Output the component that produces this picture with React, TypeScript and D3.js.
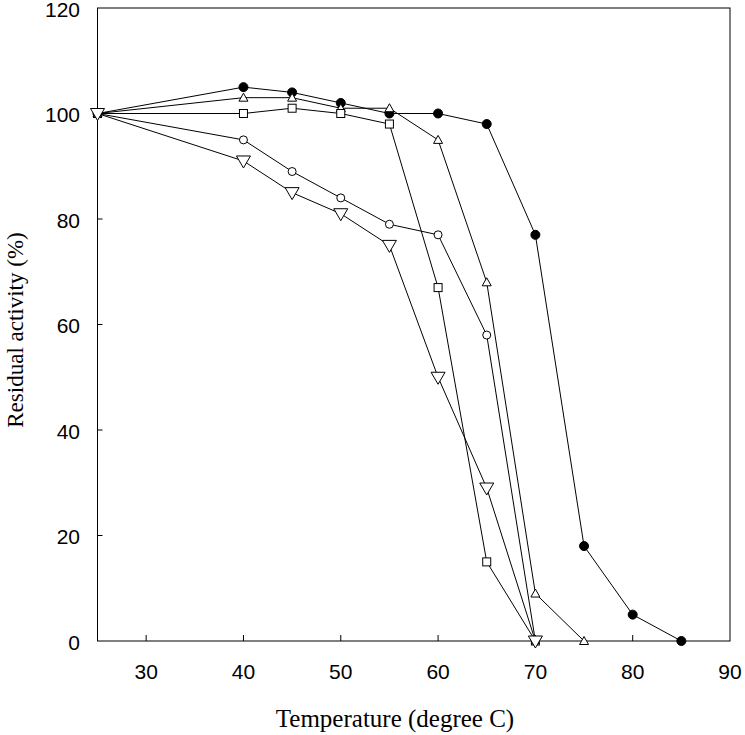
import React from "react";
import * as d3 from "d3";

const temps = [25, 40, 45, 50, 55, 60, 65, 70, 75, 80, 85];
const filledCircle = [100, 105, 104, 102, 100, 100, 98, 77, 18, 5, 0];
const triUp = [100, 103, 103, 101, 101, 95, 68, 9, 0];
const square = [100, 100, 101, 100, 98, 67, 15, 0];
const openCircle = [100, 95, 89, 84, 79, 77, 58, 0];
const triDown = [100, 91, 85, 81, 75, 50, 29, 0];
const xTicks = [30, 40, 50, 60, 70, 80, 90];
const yTicks = [0, 20, 40, 60, 80, 100, 120];

type S = { name: string; vals: number[]; shape: string };
const series: S[] = [
  { name: "filledCircle", vals: filledCircle, shape: "fcircle" },
  { name: "triUp", vals: triUp, shape: "triup" },
  { name: "square", vals: square, shape: "square" },
  { name: "openCircle", vals: openCircle, shape: "ocircle" },
  { name: "triDown", vals: triDown, shape: "tridown" },
];

export default function App() {
  const W = 745, H = 735;
  const x = d3.scaleLinear().domain([25, 90]).range([97.5, 730]);
  const y = d3.scaleLinear().domain([0, 120]).range([641, 8]);
  const line = d3.line<[number, number]>().x(d => x(d[0])).y(d => y(d[1]));

  const marker = (shape: string, cx: number, cy: number, k: string) => {
    switch (shape) {
      case "fcircle":
        return <circle key={k} cx={cx} cy={cy} r={4.5} fill="#000" stroke="#000" strokeWidth={1} />;
      case "ocircle":
        return <circle key={k} cx={cx} cy={cy} r={4} fill="#fff" stroke="#000" strokeWidth={1} />;
      case "square":
        return <rect key={k} x={cx - 4} y={cy - 4} width={8} height={8} fill="#fff" stroke="#000" strokeWidth={1} />;
      case "triup":
        return <path key={k} d={`M${cx},${cy - 4.5}L${cx + 4.5},${cy + 3.5}L${cx - 4.5},${cy + 3.5}Z`} fill="#fff" stroke="#000" strokeWidth={1} />;
      case "tridown":
        return <path key={k} d={`M${cx - 7},${cy - 5}L${cx + 7},${cy - 5}L${cx},${cy + 7}Z`} fill="#fff" stroke="#000" strokeWidth={1} />;
    }
    return null;
  };

  return (
    <svg width={W} height={H} style={{ position: "absolute", left: 0, top: 0, background: "#fff" }}>
      <rect x={x(25)} y={y(120)} width={x(90) - x(25)} height={y(0) - y(120)} fill="none" stroke="#000" strokeWidth={1} />
      {xTicks.map(t => (
        <g key={"xt" + t}>
          {t < 90 && <line x1={x(t)} x2={x(t)} y1={y(0)} y2={y(0) - 6} stroke="#000" strokeWidth={1} />}
          <text x={x(t)} y={679} textAnchor="middle" fontFamily="Liberation Sans, Arial, sans-serif" fontSize={21}>{t}</text>
        </g>
      ))}
      {yTicks.map(t => (
        <g key={"yt" + t}>
          {t > 0 && t < 120 && <line x1={x(25)} x2={x(25) + 5} y1={y(t)} y2={y(t)} stroke="#000" strokeWidth={1} />}
          <text x={80} y={y(t) + 8.5} textAnchor="end" fontFamily="Liberation Sans, Arial, sans-serif" fontSize={21}>{t}</text>
        </g>
      ))}
      {series.map(s => (
        <path key={"l" + s.name} d={line(s.vals.map((v, i) => [temps[i], v] as [number, number])) || ""} fill="none" stroke="#000" strokeWidth={1} />
      ))}
      {series.map(s => (
        <g key={"m" + s.name}>
          {s.vals.map((v, i) => marker(s.shape, x(temps[i]), y(v), s.name + i))}
        </g>
      ))}
      <text x={395} y={727} textAnchor="middle" fontFamily="Liberation Serif, Times New Roman, serif" fontSize={25}>Temperature (degree C)</text>
      <text transform={`translate(23,${330}) rotate(-90)`} textAnchor="middle" fontFamily="Liberation Serif, Times New Roman, serif" fontSize={23}>Residual activity (%)</text>
    </svg>
  );
}
